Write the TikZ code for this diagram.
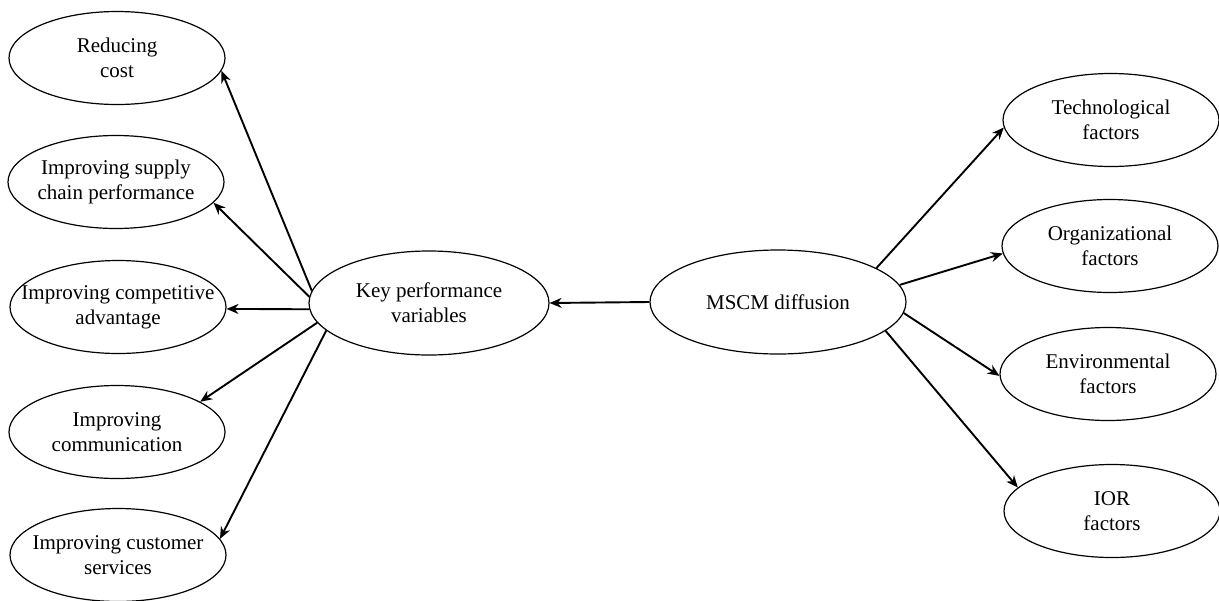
\documentclass[tikz,border=0pt]{standalone}
\usepackage{fontspec}
\setmainfont{Liberation Serif}
\usetikzlibrary{arrows.meta,shapes.geometric}
\begin{document}
\begin{tikzpicture}[x=0.5pt,y=-0.5pt,
  oval/.style={ellipse,draw,line width=0.6pt,inner sep=0pt,
    minimum width=108pt,minimum height=46.5pt},
  bigoval/.style={oval,minimum width=120pt,minimum height=52pt},
  txt/.style={inner sep=0pt,align=center,font=\fontsize{10.5}{12.5}\selectfont},
  link/.style={line width=0.95pt,-{Stealth[length=6pt,width=5pt,inset=2pt]}}]
\useasboundingbox (0,0) rectangle (1219,600);
% left column
\node[oval] (rc) at (117,58) {};
\node[oval] (sc) at (116,182) {};
\node[oval] (ca) at (118,307) {};
\node[oval] (co) at (117,432) {};
\node[oval] (cs) at (118,555) {};
\node[txt] (rct) at (rc) {Reducing\\cost};
\node[txt] (sct) at (sc) {Improving supply\\chain performance};
\node[txt] (cat) at (ca) {Improving competitive\\advantage};
\node[txt] (cot) at (co) {Improving\\communication};
\node[txt] (cst) at (cs) {Improving customer\\services};
% centre
\node[bigoval] (kpv) at (429,303) {};
\node[bigoval,minimum width=128pt] (ms) at (778,302) {};
\node[txt] (kpvt) at (kpv) {Key performance\\variables};
\node[txt] (mst) at (ms) {MSCM diffusion};
% right column
\node[oval] (tf) at (1111,120) {};
\node[oval] (of) at (1110,246) {};
\node[oval] (ef) at (1108,374) {};
\node[oval] (ior) at (1112,511) {};
\node[txt] (tft) at (tf) {Technological\\factors};
\node[txt] (oft) at (of) {Organizational\\factors};
\node[txt] (eft) at (ef) {Environmental\\factors};
\node[txt] (iort) at (ior) {IOR\\factors};
% connectors
\draw[link] (ms.west) -- (kpv.east);
\draw[link] (kpv.174) -- (rc.-7.5);
\draw[link] (kpv.177) -- (sc.-12.7);
\draw[link] (kpv.183) -- (ca.-1);
\draw[link] (kpv.190) -- (co.20.4);
\draw[link] (kpv.195) -- (cs.9.2);
\draw[link] (ms.19) -- (tf.184.2);
\draw[link] (ms.8) -- (of.184.6);
\draw[link] (ms.-5) -- (ef.181.5);
\draw[link] (ms.-15) -- (ior.166);
\end{tikzpicture}
\end{document}
